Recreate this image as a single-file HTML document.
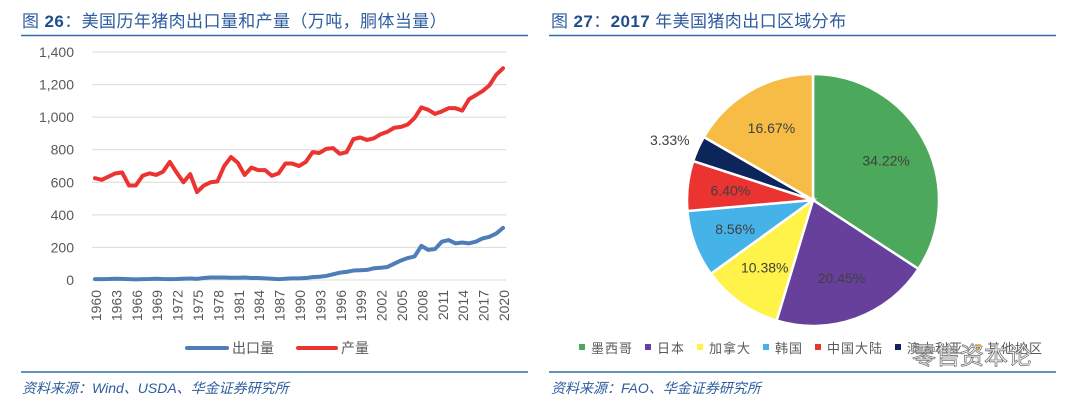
<!DOCTYPE html>
<html><head><meta charset="utf-8"><style>
body{margin:0;width:1074px;height:405px;background:#fff;overflow:hidden;font-family:"Liberation Sans","Noto Sans CJK SC",sans-serif}
svg{position:absolute;left:0;top:0}
</style></head><body>
<svg id="s" width="1074" height="405" xmlns="http://www.w3.org/2000/svg">
<text x="22" y="27" font-size="17" fill="#2E5C9E" font-family="Liberation Sans,Noto Sans CJK SC,sans-serif" letter-spacing="0.4">图 <tspan font-weight="bold" fill="#1F4E8C">26</tspan>：美国历年猪肉出口量和产量（万吨，胴体当量）</text>
<line x1="21" y1="35.5" x2="528" y2="35.5" stroke="#2E6DB0" stroke-width="1.5"/>
<text x="551" y="27" font-size="17" fill="#2E5C9E" font-family="Liberation Sans,Noto Sans CJK SC,sans-serif" letter-spacing="0.4">图 <tspan font-weight="bold" fill="#1F4E8C">27</tspan>：<tspan font-weight="bold" fill="#1F4E8C">2017</tspan> 年美国猪肉出口区域分布</text>
<line x1="549" y1="35.5" x2="1056" y2="35.5" stroke="#2E6DB0" stroke-width="1.5"/>
<g id="line-chart"></g>
<g id="pie-chart"></g>
<line x1="21" y1="372" x2="528" y2="372" stroke="#2E6DB0" stroke-width="1.5"/>
<line x1="549" y1="372" x2="1056" y2="372" stroke="#2E6DB0" stroke-width="1.5"/>
<text x="22" y="393" font-size="14" font-style="italic" fill="#2E5C9E">资料来源：Wind、USDA、华金证券研究所</text>
<text x="551" y="393" font-size="14" font-style="italic" fill="#2E5C9E">资料来源：FAO、华金证券研究所</text>
<text x="912" y="364" font-size="24" fill="#fff" stroke="#777" stroke-width="0.8">零售资本论</text>
</svg>
<script>
const years=[];for(let y=1960;y<=2020;y++)years.push(y);
const production=[625,615,635,655,660,580,580,640,655,645,665,725,660,600,650,540,580,600,605,700,755,720,645,690,675,675,640,655,715,715,700,725,785,780,805,810,775,785,865,875,860,870,895,910,935,940,955,995,1060,1045,1020,1035,1055,1055,1040,1110,1135,1160,1195,1260,1300];
const exportsV=[5,5,6,8,7,5,4,5,6,8,6,5,6,8,9,7,12,15,15,15,14,14,15,12,12,10,8,5,8,10,10,12,18,20,25,35,45,50,58,60,62,72,75,80,100,120,135,145,210,185,190,235,245,225,230,225,235,255,265,285,320];
const yTicks=[0,200,400,600,800,1000,1200,1400];
const tickYears=[1960,1963,1966,1969,1972,1975,1978,1981,1984,1987,1990,1993,1996,1999,2002,2005,2008,2011,2014,2017,2020];
const pieLabels=["墨西哥","日本","加拿大","韩国","中国大陆","澳大利亚","其他地区"];
const pieValues=[34.22,20.45,10.38,8.56,6.40,3.33,16.67];
const pieColors=["#4CA85A","#66409A","#FFF34A","#45B2E8","#EB3431","#0C255A","#F6BC46"];

const NS="http://www.w3.org/2000/svg";
function mk(t,a,p){const e=document.createElementNS(NS,t);for(const k in a)e.setAttribute(k,a[k]);p.appendChild(e);return e;}
const lc=document.getElementById('line-chart');
const X=y=>95+(y-1960)*(503-95)/60, Y=v=>280-v*(228/1400);
yTicks.forEach(v=>{
 const g=mk('line',{x1:92,x2:506,y1:Y(v),y2:Y(v),stroke:'#D9D9D9','stroke-width':1},lc);
 
 
 const t=mk('text',{x:74,y:Y(v)+5,'text-anchor':'end','font-size':14,fill:'#595959'},lc);
 t.textContent=v.toLocaleString('en-US');
 
 
});
tickYears.forEach(y=>{
 const t=mk('text',{x:0,y:0,'text-anchor':'end','font-size':14,fill:'#595959',transform:`translate(${X(y)+6},290) rotate(-90)`},lc);
 t.textContent=y;
 
 
});
function series(vals,color,name){
 const p=mk('polyline',{points:vals.map((v,i)=>X(years[i])+','+Y(v)).join(' '),fill:'none',stroke:color,'stroke-width':4,'stroke-linejoin':'round','stroke-linecap':'round'},lc);
 
 
}
series(exportsV,'#4F7DBA','export-line');
series(production,'#EB3431','production-line');
[[187,227,232,'#4F7DBA','出口量','legend-export'],[298,336,341,'#EB3431','产量','legend-production']].forEach(l=>{
 const ln=mk('line',{x1:l[0],x2:l[1],y1:348,y2:348,stroke:l[3],'stroke-width':4,'stroke-linecap':'round'},lc);
 
 
 const t=mk('text',{x:l[2],y:353,'font-size':14,fill:'#595959'},lc);
 t.textContent=l[4];
 
 
});

const pc=document.getElementById('pie-chart');
const cx=813,cy=200,r=126;
const total=pieValues.reduce((a,b)=>a+b,0);
let a0=-Math.PI/2;
pieValues.forEach((v,i)=>{
 const a1=a0+v/total*2*Math.PI;
 const large=(a1-a0)>Math.PI?1:0;
 const p=mk('path',{d:`M${cx},${cy} L${cx+r*Math.cos(a0)},${cy+r*Math.sin(a0)} A${r},${r} 0 ${large} 1 ${cx+r*Math.cos(a1)},${cy+r*Math.sin(a1)} Z`,fill:pieColors[i],stroke:'#fff','stroke-width':2.5},pc);
 
 
 const m=(a0+a1)/2;
 const rr=v<5?r+22:r*0.66;
 const t=mk('text',{x:cx+rr*Math.cos(m)-(v<5?8:0),y:cy+rr*Math.sin(m)+5,'text-anchor':'middle','font-size':14,fill:'#404040'},pc);
 t.textContent=v.toFixed(2)+'%';
 
 
 a0=a1;
});
let lx=579;
pieLabels.forEach((n,i)=>{
 const s=mk('rect',{x:lx,y:344,width:6,height:6,fill:pieColors[i]},pc);
 
 
 const t=mk('text',{x:lx+12,y:353,'font-size':13,fill:'#595959','letter-spacing':1},pc);
 t.textContent=n;
 
 
 lx+=12+n.length*14+12;
});
</script>
</body></html>
